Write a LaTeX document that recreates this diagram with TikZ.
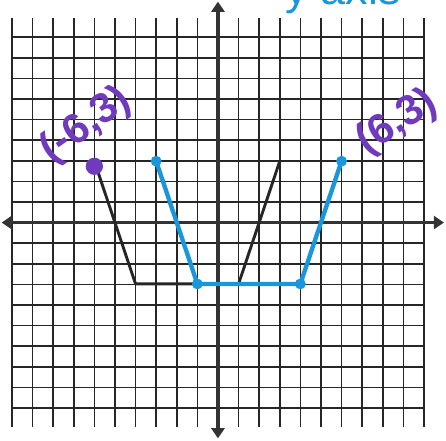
\documentclass[tikz,border=0pt]{standalone}
\usepackage{fontspec}
\setmainfont{Liberation Sans}
\usetikzlibrary{arrows.meta}
\definecolor{penblue}{RGB}{25,150,220}
\definecolor{penpurple}{RGB}{112,58,188}

\begin{document}
\begin{tikzpicture}[x=1cm, y=0.993cm,
    gridline/.style={line width=2.2pt, black!85},
    axisline/.style={line width=4.5pt, black!80, {Triangle[width=18pt,length=14pt]}-{Triangle[width=18pt,length=14pt]}},
    oldgraph/.style={line width=4pt, black!85, line join=round},
    newgraph/.style={line width=6pt, penblue, line join=round, line cap=round},
    dotmark/.style={circle, fill=penblue, inner sep=0pt, minimum size=15pt},
    note/.style={text=penpurple, font=\fontsize{58}{58}\selectfont\bfseries, inner sep=0pt}]
      \useasboundingbox (-10.58,-10.64) rectangle (11.07,10.88);
      \clip (-10.58,-10.64) rectangle (11.07,10.88);

      \draw[gridline] (-10,-10) grid (10,10);
      \coordinate (xl) at (-10.5,0);
      \coordinate (xr) at (10.97,0);
      \coordinate (yb) at (0,-10.55);
      \coordinate (yt) at (0,10.8);
      \draw[axisline] (xl) -- (xr);
      \draw[axisline] (yb) -- (yt);

      \node[anchor=base west, text=penblue, font=\fontsize{62}{62}\selectfont, inner sep=0pt] (topnote) at (3.25,10.65) {y\hskip0.3em axis};

      \coordinate (b1) at (-6,3);
      \coordinate (b2) at (-4,-3);
      \coordinate (b3) at (1,-3);
      \coordinate (b4) at (3,3);
      \draw[oldgraph] (b1) -- (b2) -- (b3) -- (b4);

      \node[dotmark] (c1) at (-3,3) {};
      \node[dotmark] (c2) at (-1,-3) {};
      \node[dotmark] (c3) at (4,-3) {};
      \node[dotmark] (c4) at (6,3) {};
      \draw[newgraph] (c1.center) -- (c2.center) -- (c3.center) -- (c4.center);

      \fill[penpurple] (-6,2.75) circle (0.42);
      \node[note, rotate=35] (leftnote) at (-6.4,4.75) {(-6,3)};
      \node[note, rotate=32] (rightnote) at (8.7,4.9) {(6,3)};
    \end{tikzpicture}
\end{document}
